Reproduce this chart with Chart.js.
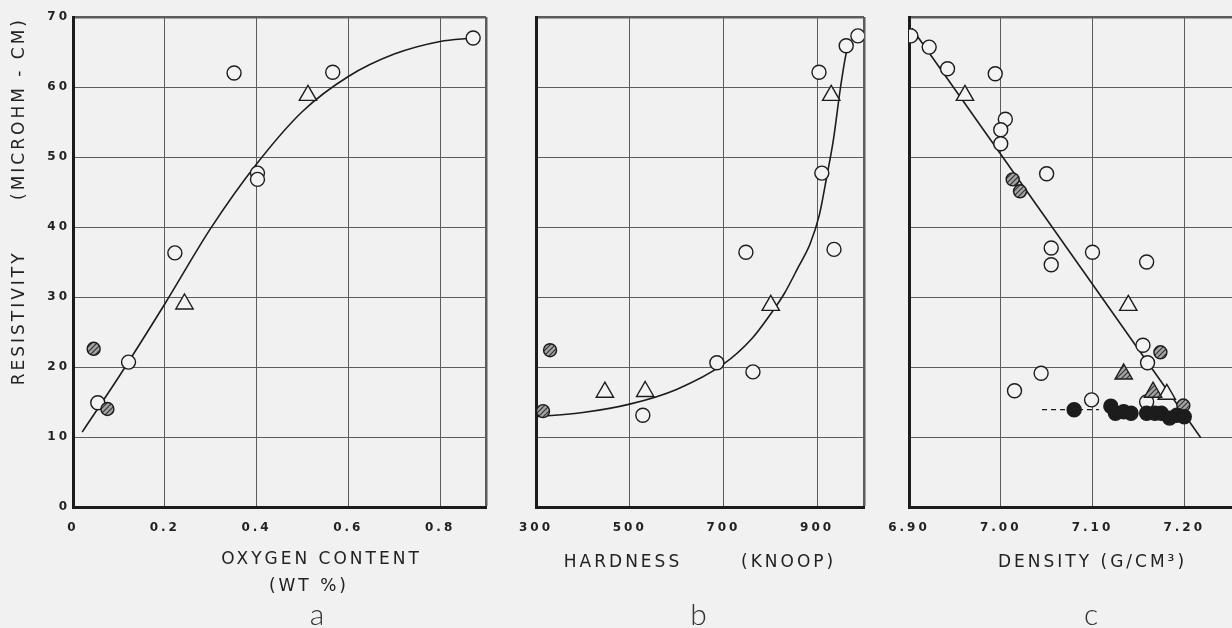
<!DOCTYPE html>
<html>
<head>
<meta charset="utf-8">
<title>Resistivity vs oxygen content, hardness and density</title>
<script src="https://cdn.jsdelivr.net/npm/chart.js@4.4.1/dist/chart.umd.min.js"></script>
<style>
  html, body { margin: 0; padding: 0; background: #f1f1f1; overflow: hidden; width: 1232px; height: 628px; }
  canvas { position: absolute; top: 0; }
  #chartA { left: 0; }
  #chartB { left: 500px; }
  #chartC { left: 880px; }
</style>
</head>
<body>
<canvas id="chartA" width="500" height="640"></canvas>
<canvas id="chartB" width="380" height="640"></canvas>
<canvas id="chartC" width="410" height="640"></canvas>
<script>
// resistivity axis, shared by the three panels
const yTicks = [0, 10, 20, 30, 40, 50, 60, 70];
const yLabels = ['0', '10', '20', '30', '40', '50', '60', '70'];

// panel a: oxygen content (wt %)
const aTicks = [0, 0.2, 0.4, 0.6, 0.8, 0.9];
const aLabels = ['0', '0.2', '0.4', '0.6', '0.8', ''];
const aOpenX = [0.872, 0.351, 0.566, 0.402, 0.402, 0.222, 0.121, 0.054];
const aOpenY = [67.0, 62.0, 62.1, 47.7, 46.8, 36.3, 20.7, 14.9];
const aTriX = [0.512, 0.243];
const aTriY = [58.8, 29.0];
const aHatchX = [0.045, 0.075];
const aHatchY = [22.6, 14.0];
const aFitX = [0.02, 0.1, 0.2, 0.3, 0.4, 0.5, 0.6, 0.7, 0.8, 0.87];
const aFitY = [10.7, 18.6, 29.0, 39.8, 49.0, 56.5, 61.5, 64.7, 66.5, 67.0];

// panel b: hardness (knoop)
const bTicks = [300, 500, 700, 900, 1000];
const bLabels = ['300', '500', '700', '900', ''];
const bOpenX = [987, 962, 904, 910, 748, 936, 686, 763, 528];
const bOpenY = [67.3, 65.9, 62.1, 47.7, 36.4, 36.8, 20.6, 19.3, 13.1];
const bTriX = [930, 801, 447, 533];
const bTriY = [58.8, 28.8, 16.4, 16.5];
const bHatchX = [330, 315];
const bHatchY = [22.4, 13.7];
const bFitX = [300, 400, 500, 600, 700, 760, 800, 830, 860, 885, 905, 920, 935, 950, 962, 968];
const bFitY = [12.9, 13.5, 14.7, 16.8, 20.4, 24.0, 27.5, 30.5, 34.3, 37.6, 41.8, 47.0, 52.6, 60.0, 64.8, 66.0];

// panel c: density (g/cm3)
const cTicks = [6.9, 7.0, 7.1, 7.2, 7.3];
const cLabels = ['6.90', '7.00', '7.10', '7.20', ''];
const cOpenX = [6.902, 6.922, 6.942, 6.994, 7.005, 7.000, 7.000, 7.050, 7.055, 7.055, 7.100, 7.159, 7.155, 7.160, 7.044, 7.015, 7.099, 7.159];
const cOpenY = [67.3, 65.7, 62.6, 61.9, 55.4, 53.9, 51.9, 47.6, 37.0, 34.6, 36.4, 35.0, 23.1, 20.6, 19.1, 16.6, 15.3, 15.0];
const cTriX = [6.961, 7.139, 7.181];
const cTriY = [58.8, 28.8, 16.1];
const cHatchX = [7.013, 7.021, 7.174, 7.199];
const cHatchY = [46.8, 45.1, 22.1, 14.5];
const cHatchTriX = [7.134, 7.166];
const cHatchTriY = [19.0, 16.4];
const cSolidX = [7.080, 7.120, 7.125, 7.134, 7.142, 7.159, 7.168, 7.175, 7.184, 7.192, 7.200];
const cSolidY = [13.9, 14.4, 13.4, 13.6, 13.4, 13.4, 13.4, 13.4, 12.7, 13.1, 12.9];
const cFitX = [6.903, 7.218];
const cFitY = [68.4, 9.9];
const cDashX = [7.045, 7.107];
const cDashY = [13.9, 13.9];

const ink = '#1c1c1c';
const paper = '#f3f3f3';
const tickFont = { family: 'DejaVu Sans', size: 12, weight: 'bold' };
const titleFont = { family: 'DejaVu Sans', size: 17, lineHeight: '27px' };

function pts(xs, ys) {
    return xs.map((x, i) => ({ x: x, y: ys[i] }));
}

// grey fill with /// lines for the hatched symbols
function hatch() {
    const c = document.createElement('canvas');
    c.width = 5;
    c.height = 5;
    const g = c.getContext('2d');
    g.fillStyle = '#a4a4a4';
    g.fillRect(0, 0, 5, 5);
    g.strokeStyle = '#333';
    g.lineWidth = 1.2;
    g.beginPath();
    g.moveTo(0, 5); g.lineTo(5, 0);
    g.moveTo(-1, 1); g.lineTo(1, -1);
    g.moveTo(4, 6); g.lineTo(6, 4);
    g.stroke();
    return g.createPattern(c, 'repeat');
}
const hatched = hatch();

function marks(xs, ys, style, radius, fill) {
    return {
        data: pts(xs, ys),
        pointStyle: style,
        pointRadius: radius,
        pointBorderWidth: 1.4,
        pointBorderColor: ink,
        pointBackgroundColor: fill
    };
}

function curve(xs, ys, dash) {
    return {
        data: pts(xs, ys),
        showLine: true,
        pointRadius: 0,
        borderColor: ink,
        borderWidth: dash ? 1.2 : 1.6,
        borderDash: dash ? [5, 4] : [],
        cubicInterpolationMode: 'monotone'
    };
}

// the old drawing uses widely spaced lettering
const spacedText = {
    id: 'spacedText',
    beforeDraw(chart) {
        chart.ctx.letterSpacing = '3px';
    }
};

function panel(id, cfg) {
    const xMax = cfg.xTicks[cfg.xTicks.length - 1];
    const ctx = document.getElementById(id).getContext('2d');
    return new Chart(ctx, {
        type: 'scatter',
        data: { datasets: cfg.datasets },
        options: {
            responsive: false,
            animation: false,
            events: [],
            layout: { padding: { top: 17, right: cfg.padRight, bottom: 10, left: 0 } },
            plugins: {
                legend: { display: false },
                tooltip: { enabled: false },
                title: {
                    display: true,
                    text: cfg.letter,
                    position: 'bottom',
                    fullSize: false,
                    padding: 0,
                    color: '#333',
                    font: { family: 'Lato', size: 30, weight: 300, lineHeight: 1 }
                }
            },
            scales: {
                x: {
                    type: 'linear',
                    min: cfg.xTicks[0],
                    max: xMax,
                    afterBuildTicks: s => { s.ticks = cfg.xTicks.map(v => ({ value: v })); },
                    afterFit: s => { s.height = 93; },
                    grid: {
                        color: '#5c5c5c',
                        lineWidth: c => (c.tick && c.tick.value === xMax) ? 2.5 : 1,
                        drawTicks: false
                    },
                    border: { color: ink, width: 3 },
                    ticks: {
                        autoSkip: false,
                        maxRotation: 0,
                        padding: 14,
                        color: '#222',
                        font: tickFont,
                        callback: (v, i) => cfg.xLabels[i]
                    },
                    title: {
                        display: true,
                        text: cfg.xTitle,
                        color: '#222',
                        font: titleFont,
                        padding: { top: 0, bottom: cfg.xTitlePad }
                    }
                },
                y: {
                    type: 'linear',
                    min: 0,
                    max: 70,
                    afterBuildTicks: s => { s.ticks = yTicks.map(v => ({ value: v })); },
                    afterFit: s => { s.width = cfg.yWidth; },
                    grid: {
                        color: '#5c5c5c',
                        lineWidth: c => (c.tick && c.tick.value === 70) ? 2.5 : 1,
                        drawTicks: false
                    },
                    border: { color: ink, width: 3 },
                    ticks: {
                        display: cfg.showY,
                        padding: 3,
                        color: '#222',
                        font: tickFont,
                        callback: (v, i) => yLabels[i]
                    },
                    title: {
                        display: cfg.showY,
                        text: 'RESISTIVITY      (MICROHM - CM)',
                        align: 'end',
                        color: '#222',
                        font: { family: 'DejaVu Sans', size: 17, lineHeight: 1.2 },
                        padding: { top: 9, bottom: 0 }
                    }
                }
            }
        },
        plugins: [spacedText]
    });
}

// leading spaces push panel a's captions right, as in the drawing
panel('chartA', {
    letter: '       a',
    xTicks: aTicks,
    xLabels: aLabels,
    xTitle: ['          OXYGEN CONTENT', '       (WT %)'],
    xTitlePad: 0,
    yWidth: 73,
    padRight: 9,
    showY: true,
    datasets: [
        marks(aHatchX, aHatchY, 'circle', 6.5, hatched),
        marks(aOpenX, aOpenY, 'circle', 7, paper),
        marks(aTriX, aTriY, 'triangle', 10, paper),
        curve(aFitX, aFitY, false)
    ]
});

panel('chartB', {
    letter: 'b',
    xTicks: bTicks,
    xLabels: bLabels,
    xTitle: 'HARDNESS       (KNOOP)',
    xTitlePad: 23.5,
    yWidth: 36,
    padRight: 16,
    showY: false,
    datasets: [
        marks(bHatchX, bHatchY, 'circle', 6.5, hatched),
        marks(bOpenX, bOpenY, 'circle', 7, paper),
        marks(bTriX, bTriY, 'triangle', 10, paper),
        curve(bFitX, bFitY, false)
    ]
});

panel('chartC', {
    letter: 'c',
    xTicks: cTicks,
    xLabels: cLabels,
    xTitle: 'DENSITY (G/CM\u00B3)',
    xTitlePad: 23.5,
    yWidth: 29,
    padRight: 6,
    showY: false,
    datasets: [
        marks(cSolidX, cSolidY, 'circle', 7, ink),
        marks(cHatchX, cHatchY, 'circle', 6.5, hatched),
        marks(cHatchTriX, cHatchTriY, 'triangle', 10, hatched),
        marks(cOpenX, cOpenY, 'circle', 7, paper),
        marks(cTriX, cTriY, 'triangle', 10, paper),
        curve(cDashX, cDashY, true),
        curve(cFitX, cFitY, false)
    ]
});
</script>
</body>
</html>
